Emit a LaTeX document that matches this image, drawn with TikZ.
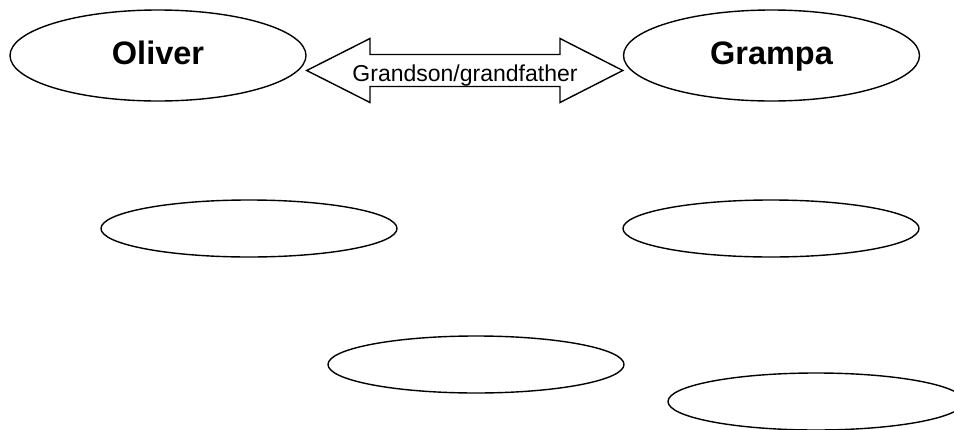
\documentclass[tikz,border=0pt]{standalone}
\usepackage{fontspec}
\setmainfont{Liberation Sans}
\usetikzlibrary{shapes.geometric}
\begin{document}
\begin{tikzpicture}[x=1pt,y=-1pt,
  bubble/.style={ellipse,draw,line width=1.4pt,minimum width=296pt,
    minimum height=57pt,inner sep=0pt},
  bigbubble/.style={bubble,minimum height=91pt,text height=23pt,text depth=6pt,
    font=\fontsize{32.5}{36}\selectfont\bfseries},
  blockarrow/.style={draw,line width=1.4pt,line join=miter},
  linklabel/.style={inner sep=0pt,anchor=base,font=\fontsize{23}{26}\selectfont}]
\clip (0,0) rectangle (954,429);
\useasboundingbox (0,0) rectangle (954,429);

% the two people
\node[bigbubble] (oliver) at (158,55.5) {Oliver};
\node[bigbubble] (grampa) at (771.5,55.5) {Grampa};

% empty bubbles to fill in
\node[bubble] (midleft)  at (249,228.5) {};
\node[bubble] (midright) at (771,228.5) {};
\node[bubble] (lowmid)   at (476,364.5) {};
\node[bubble] (lowright) at (816,401.5) {};

% two-headed block arrow between the people
\coordinate (lefttip)  at (oliver.east |- 0,70.5);
\coordinate (righttip) at (grampa.west |- 0,70.5);
\draw[blockarrow] (lefttip) -- (370,38.5) -- (370,54.5) -- (560,54.5)
  -- (560,38.5) -- (righttip) -- (560,102.5) -- (560,86.5)
  -- (370,86.5) -- (370,102.5) -- cycle;
% label sits inside the shaft; its descenders are hidden by the lower edge
\begin{scope}
  \clip (300,55.5) rectangle (640,85.5);
  \node[linklabel] (relation) at (465,81.7) {Grandson/grandfather};
\end{scope}
\end{tikzpicture}
\end{document}
